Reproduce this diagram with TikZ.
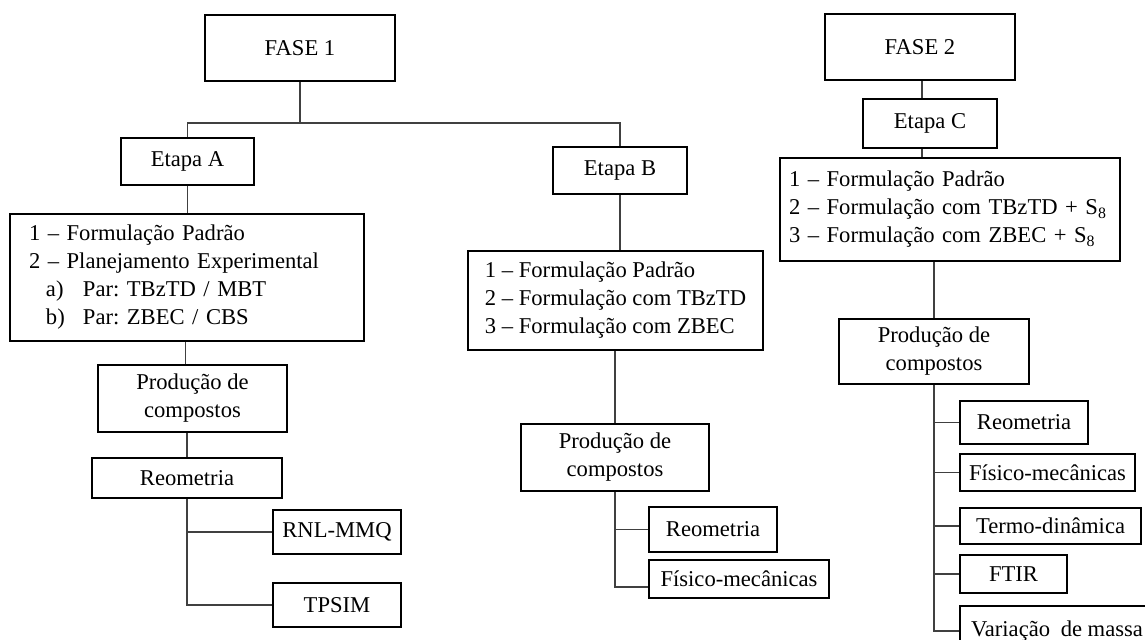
\documentclass[tikz,border=0pt]{standalone}
\usepackage{fontspec}
\setmainfont{Liberation Serif}
\frenchspacing
\begin{document}
\begin{tikzpicture}[x=0.5pt,y=-0.5pt,
  box/.style={draw=black, line width=1pt, anchor=north west, inner sep=0pt,
    font=\fontsize{11.3}{14}\selectfont\frenchspacing, align=center},
  lbox/.style={box, align=left},
  conn/.style={draw=black!75, line width=0.6pt}]
\useasboundingbox (0,0) rectangle (1145,639);
\clip (0,0) rectangle (1145,639);
% ---- FASE 1 ----
\node[box, minimum width=95pt, minimum height=33pt] (F1) at (204,14) {FASE 1};
\node[box, minimum width=66.5pt, minimum height=23.5pt] (EtA) at (120,137) {Etapa A};
\node[lbox, minimum width=177pt, minimum height=63.5pt, text width=158pt, inner xsep=9.5pt] (A1) at (9,213)
  {1 – Formulação Padrão\\
   2 – Planejamento Experimental\\
   \hspace*{8.5pt}\makebox[18.5pt][l]{a)}Par: TBzTD / MBT\\
   \hspace*{8.5pt}\makebox[18.5pt][l]{b)}Par: ZBEC / CBS};
\node[box, minimum width=94.5pt, minimum height=33.5pt] (PA) at (97,364) {Produção de\\compostos};
\node[box, minimum width=95pt, minimum height=20pt] (RA) at (91,457) {Reometria};
\node[box, minimum width=64pt, minimum height=22pt] (RNL) at (272,509) {RNL-MMQ};
\node[box, minimum width=64pt, minimum height=22pt] (TPS) at (272,582) {TPSIM};
\node[box, minimum width=67pt, minimum height=23.5pt] (EtB) at (552,146) {Etapa B};
\node[lbox, minimum width=147.5pt, minimum height=49.5pt] (B1) at (467,250)
  {1 – Formulação Padrão\\
   2 – Formulação com TBzTD\\
   3 – Formulação com ZBEC};
\node[box, minimum width=94pt, minimum height=33.5pt] (PB) at (520,423) {Produção de\\compostos};
\node[box, minimum width=64pt, minimum height=22.5pt] (RB) at (648,506) {Reometria};
\node[box, minimum width=90pt, minimum height=19pt] (FB) at (648,559) {Físico-mecânicas};
% ---- FASE 2 ----
\node[box, minimum width=95pt, minimum height=33pt] (F2) at (824,13) {FASE 2};
\node[box, minimum width=67pt, minimum height=24.5pt] (EtC) at (862,98) {Etapa C};
\node[lbox, minimum width=170pt, minimum height=51.5pt, text width=161pt, inner xsep=4.5pt] (C1) at (779,157)
  {1 – Formulação Padrão\\
   2 – Formulação com TBzTD + S\textsubscript{8}\\
   3 – Formulação com ZBEC + S\textsubscript{8}};
\node[box, minimum width=95pt, minimum height=32.5pt] (PC) at (838,318) {Produção de\\compostos};
\node[box, minimum width=64pt, minimum height=21.5pt] (RC) at (959,400) {Reometria};
\node[box, minimum width=87.5pt, minimum height=18.5pt] (FC) at (959,453) {Físico-mecânicas};
\node[box, minimum width=90.5pt, minimum height=18pt] (TC) at (959,507) {Termo-dinâmica};
\node[box, minimum width=53.5pt, minimum height=19pt] (FT) at (959,554) {FTIR};
\node[box, minimum width=97pt, minimum height=25pt] (VM) at (959,605) {Variação\hspace{2.5pt} de massa};
% ---- connectors ----
\coordinate (j1) at (300,123);
\draw[conn] (F1.south) -- (j1);
\draw[conn] (EtA.north) |- (j1) -| (EtB.north);
\draw[conn] (EtA.south) -- (EtA.south |- A1.north);
\draw[conn] ([xshift=-3.5pt]PA.north) -- ([xshift=-3.5pt]PA.north |- A1.south);
\draw[conn] (RA.north) -- (RA.north |- PA.south);
\draw[conn] (RA.south) |- (RNL.west);
\draw[conn] (RA.south) |- (TPS.west);
\draw[conn] (EtB.south) -- (EtB.south |- B1.north);
\draw[conn] (PB.north) -- (PB.north |- B1.south);
\draw[conn] (PB.south) |- (RB.west);
\draw[conn] (PB.south) |- ([yshift=-4pt]FB.west);
\draw[conn] ([xshift=1pt]F2.south) -- ([xshift=1pt]F2.south |- EtC.north);
\draw[conn] ([xshift=1pt]F2.south |- EtC.south) -- ([xshift=1pt]F2.south |- C1.north);
\draw[conn] (PC.north) -- (PC.north |- C1.south);
\draw[conn] (PC.south) |- (RC.west);
\draw[conn] (PC.south) |- (FC.west);
\draw[conn] (PC.south) |- (TC.west);
\draw[conn] (PC.south) |- (FT.west);
\draw[conn] (PC.south) |- (VM.west);
\end{tikzpicture}
\end{document}
